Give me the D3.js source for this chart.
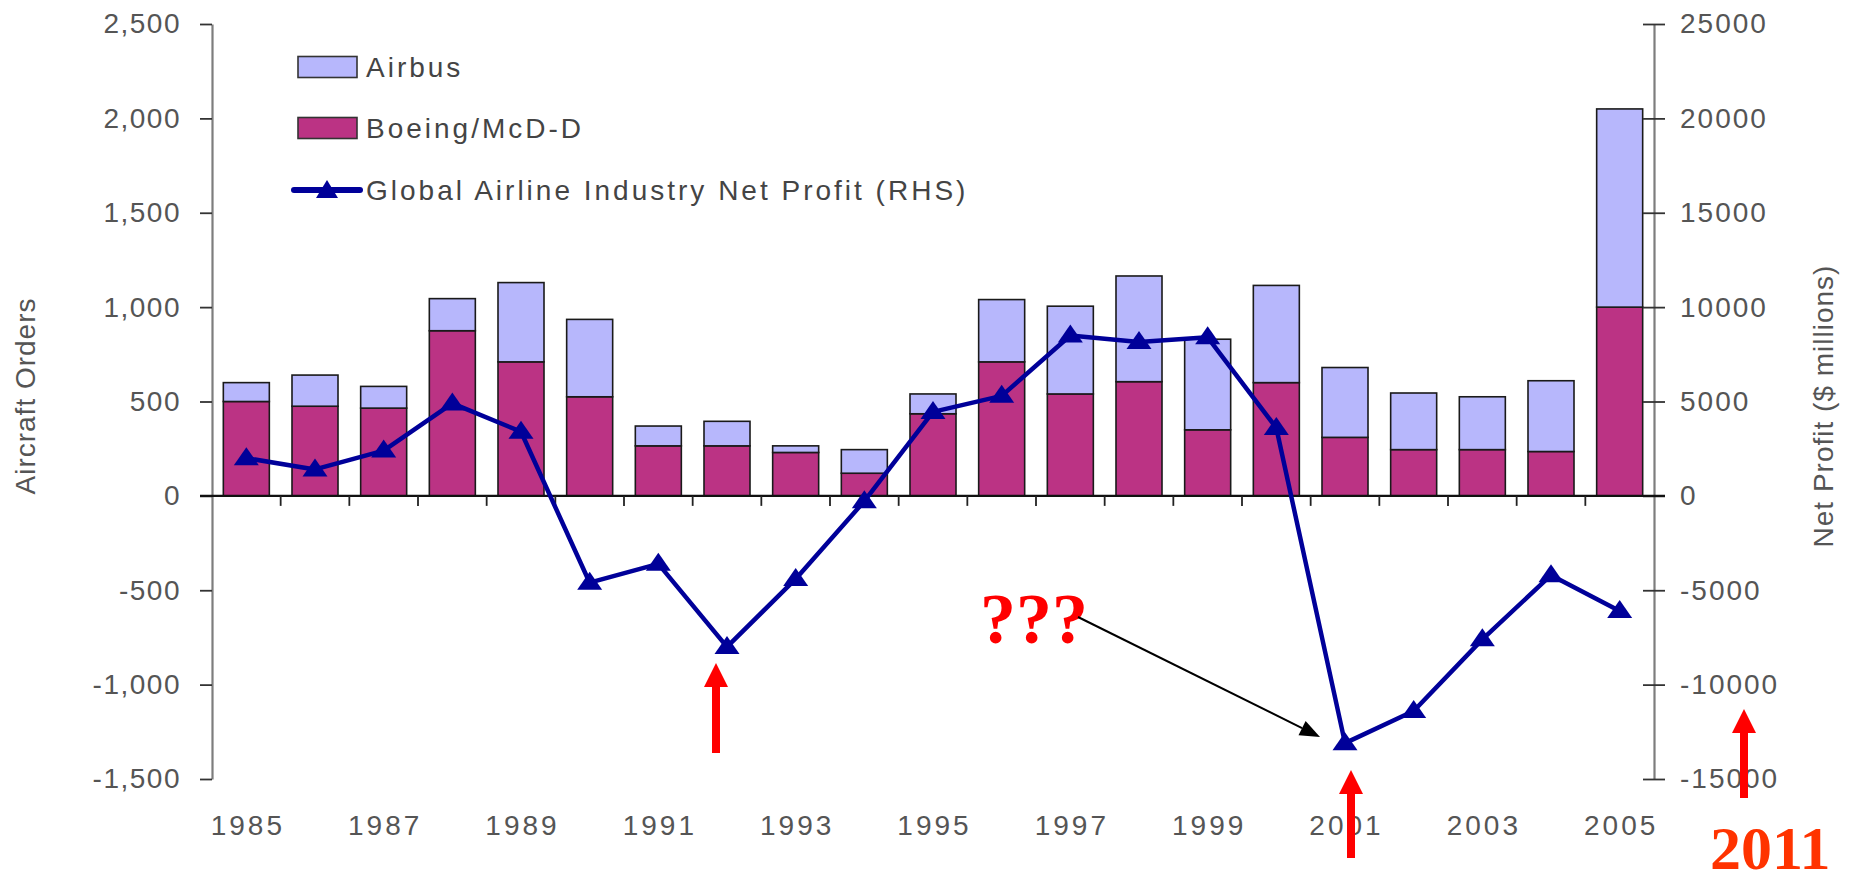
<!DOCTYPE html>
<html><head><meta charset="utf-8">
<script src="https://cdn.jsdelivr.net/npm/d3@7"></script>
<style>
body{margin:0;background:#fff;}
svg{display:block;font-family:"Liberation Sans",Arial,sans-serif;}
</style>
</head><body>
<svg id="c" width="1856" height="873"></svg>
<script>
// ---- data ----
const years = ["1985","1986","1987","1988","1989","1990","1991","1992","1993","1994","1995","1996","1997","1998","1999","2000","2001","2002","2003","2004","2005"];
const boeing = [500,475,465,875,710,525,265,265,230,120,435,710,540,605,350,600,310,245,245,235,1000];
const airbus = [100,165,115,170,420,410,105,130,35,125,105,330,465,560,480,515,370,300,280,375,1050];
const profit = [2000,1400,2400,4900,3400,-4600,-3600,-8000,-4400,-280,4450,5300,8500,8150,8400,3600,-13100,-11400,-7600,-4200,-6100];
const leftTicks = [-1500,-1000,-500,0,500,1000,1500,2000,2500];
const rightTicks = [-15000,-10000,-5000,0,5000,10000,15000,20000,25000];
const xLabels = ["1985","1987","1989","1991","1993","1995","1997","1999","2001","2003","2005"];
const legendLabels = ["Airbus","Boeing/McD-D","Global Airline Industry Net Profit (RHS)"];

const C_AIRBUS = "#b7b7fc", C_BOEING = "#bb3384", C_LINE = "#000099";
const SANS = '"Liberation Sans", Arial, sans-serif';
const SERIF = '"Liberation Serif", "Times New Roman", serif';
const svg = d3.select("#c");

const x = d3.scaleBand().domain(years).range([212,1654]).paddingInner(0.33).paddingOuter(0.165);
const yL = d3.scaleLinear().domain([-1500,2500]).range([779,24]);
const yR = d3.scaleLinear().domain([-15000,25000]).range([779,24]);

const rows = years.map((y,i)=>({year:y, boeing:boeing[i], airbus:airbus[i]}));
const stack = d3.stack().keys(["boeing","airbus"])(rows);
const fillOf = {boeing:C_BOEING, airbus:C_AIRBUS};

// bars
svg.append("g").selectAll("g").data(stack).join("g")
  .attr("fill", d=>fillOf[d.key])
  .selectAll("rect").data(d=>d).join("rect")
  .attr("x", d=>x(d.data.year))
  .attr("width", x.bandwidth())
  .attr("y", d=>yL(d[1]))
  .attr("height", d=>yL(d[0])-yL(d[1]))
  .attr("stroke","#1a1a1a").attr("stroke-width",1.6);

const fmtL = d => (d<0?"-":"") + d3.format(",")(Math.abs(d));
const fmtR = d => String(d);

// left axis
const gL = svg.append("g").attr("transform","translate(212,0)")
  .call(d3.axisLeft(yL).tickValues(leftTicks).tickSize(12).tickSizeOuter(0).tickPadding(19).tickFormat(fmtL));
gL.select(".domain").attr("stroke","#7d7d7d").attr("stroke-width",2.2);
gL.selectAll(".tick line").attr("stroke","#333").attr("stroke-width",1.8);
gL.selectAll(".tick text").attr("font-size",28).attr("fill","#555").attr("letter-spacing","1.5px")
  .style("font-family",SANS);

// right axis
const gR = svg.append("g").attr("transform","translate(1654,0)")
  .call(d3.axisRight(yR).tickValues(rightTicks).tickSize(11).tickSizeOuter(0).tickPadding(15).tickFormat(fmtR));
gR.select(".domain").attr("stroke","#7d7d7d").attr("stroke-width",2.2);
gR.selectAll(".tick line").attr("x1",-11).attr("stroke","#333").attr("stroke-width",1.8);
gR.selectAll(".tick text").attr("font-size",28).attr("fill","#555").attr("letter-spacing","2px")
  .style("font-family",SANS);

// zero baseline + category ticks
const y0 = yL(0);
svg.append("line").attr("x1",200).attr("x2",1665).attr("y1",y0).attr("y2",y0)
  .attr("stroke","#111").attr("stroke-width",2.4);
const gap = x.step()*x.paddingInner()/2;
svg.append("g").selectAll("line").data(years.slice(1)).join("line")
  .attr("x1",d=>x(d)-gap).attr("x2",d=>x(d)-gap)
  .attr("y1",y0).attr("y2",y0+10)
  .attr("stroke","#222").attr("stroke-width",1.8);

// x labels
svg.append("g").selectAll("text").data(xLabels).join("text")
  .attr("x",d=>x(d)+x.bandwidth()/2+1.5)
  .attr("y",835)
  .attr("text-anchor","middle")
  .attr("font-size",28).attr("fill","#555").attr("letter-spacing","3px")
  .style("font-family",SANS)
  .text(d=>d);

// line
const cx = (d,i)=>x(years[i])+x.bandwidth()/2;
svg.append("path").datum(profit)
  .attr("d", d3.line().x(cx).y(d=>yR(d)))
  .attr("fill","none").attr("stroke",C_LINE).attr("stroke-width",4.5).attr("stroke-linejoin","round");
const tri = "M0,-11L12.5,7L-12.5,7Z";
svg.append("g").selectAll("path").data(profit).join("path")
  .attr("d",tri)
  .attr("transform",(d,i)=>`translate(${cx(d,i)},${yR(d)})`)
  .attr("fill",C_LINE);

// axis titles
svg.append("text").attr("transform","translate(25,396) rotate(-90)")
  .attr("text-anchor","middle").attr("dominant-baseline","central")
  .attr("font-size",28).attr("fill","#555").attr("letter-spacing","1px")
  .style("font-family",SANS).text("Aircraft Orders");
svg.append("text").attr("transform","translate(1823,406) rotate(-90)")
  .attr("text-anchor","middle").attr("dominant-baseline","central")
  .attr("font-size",28).attr("fill","#555").attr("letter-spacing","1px")
  .style("font-family",SANS).text("Net Profit ($ millions)");

// legend
const lg = svg.append("g");
const legY = [67,128,190];
lg.append("rect").attr("x",298).attr("y",legY[0]-10.5).attr("width",59).attr("height",21)
  .attr("fill",C_AIRBUS).attr("stroke","#333").attr("stroke-width",1.6);
lg.append("rect").attr("x",298).attr("y",legY[1]-10.5).attr("width",59).attr("height",21)
  .attr("fill",C_BOEING).attr("stroke","#333").attr("stroke-width",1.6);
lg.append("line").attr("x1",294).attr("x2",360).attr("y1",legY[2]).attr("y2",legY[2])
  .attr("stroke",C_LINE).attr("stroke-width",6).attr("stroke-linecap","round");
lg.append("path").attr("d","M0,-11L11,7L-11,7Z").attr("transform",`translate(327,${legY[2]+1})`).attr("fill",C_LINE);
lg.selectAll("text.l").data(legendLabels).join("text").attr("class","l")
  .attr("x",366).attr("y",(d,i)=>legY[i]+10)
  .attr("font-size",28).attr("fill","#444").attr("letter-spacing","3px")
  .style("font-family",SANS)
  .text(d=>d);

// annotations
const ann = svg.append("g");
function redArrow(xc, yTip, yBot){
  const pts = [[xc,yTip],[xc+12,yTip+24],[xc+4,yTip+24],[xc+4,yBot],[xc-4,yBot],[xc-4,yTip+24],[xc-12,yTip+24]];
  ann.append("polygon").attr("points",pts.map(p=>p.join(",")).join(" ")).attr("fill","#ff0000");
}
redArrow(716,663,753);
redArrow(1351,770,858);
redArrow(1744,709,798);

ann.append("text").attr("x",980).attr("y",643)
  .style("font-family",SERIF).attr("font-weight","bold")
  .attr("font-size",72).attr("fill","#ff0000").text("???");
ann.append("text").attr("x",1710).attr("y",869)
  .style("font-family",SERIF).attr("font-weight","bold")
  .attr("font-size",62).attr("fill","#ff3300").text("2011");

// black pointer arrow
{
  const x1=1078,y1=617,x2=1320,y2=737;
  const dx=x2-x1, dy=y2-y1, L=Math.hypot(dx,dy), ux=dx/L, uy=dy/L;
  const hl=20, hw=8;
  const bx=x2-ux*hl, by=y2-uy*hl;
  ann.append("line").attr("x1",x1).attr("y1",y1).attr("x2",bx).attr("y2",by)
    .attr("stroke","#000").attr("stroke-width",2);
  ann.append("polygon").attr("points",
    `${x2},${y2} ${bx-uy*hw},${by+ux*hw} ${bx+uy*hw},${by-ux*hw}`).attr("fill","#000");
}
</script>
</body></html>
